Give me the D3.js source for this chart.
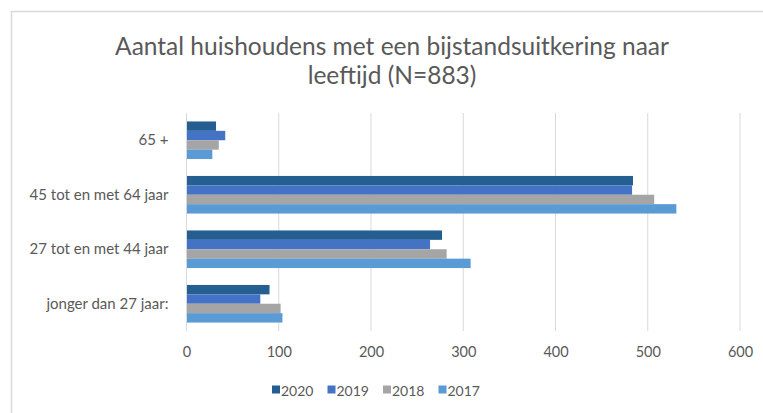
<!DOCTYPE html>
<html><head><meta charset="utf-8">
<script src="https://cdn.jsdelivr.net/npm/d3@7"></script>
<style>body{margin:0;background:#fff}svg{display:block}text{font-family:Lato,"Open Sans",sans-serif}</style>
</head><body><svg id="c" width="763" height="413"></svg>
<script>
const categories = ["65 +", "45 tot en met 64 jaar", "27 tot en met 44 jaar", "jonger dan 27 jaar:"];
const seriesNames = ["2020", "2019", "2018", "2017"];
const values2020 = [32, 484, 277, 90];
const values2019 = [42, 483, 264, 80];
const values2018 = [35, 507, 282, 102];
const values2017 = [28, 531, 308, 104];
const xTicks = [0, 100, 200, 300, 400, 500, 600];
const titleLines = ["Aantal huishoudens met een bijstandsuitkering naar", "leeftijd (N=883)"];
const colors = ["#255E91", "#4472C4", "#A5A5A5", "#5B9BD5"];

const series = [values2020, values2019, values2018, values2017];
const svg = d3.select("#c");
// chart border
svg.append("path").attr("d","M11.5,413 V11.5 H763").attr("fill","none").attr("stroke","#d9d9d9").attr("stroke-width",1.5);

const x = d3.scaleLinear().domain([0,600]).range([186.5,740]);
const y = d3.scaleBand().domain(categories).range([113,331]).paddingInner(0.31).paddingOuter(0.155);
const yi = d3.scaleBand().domain(seriesNames).range([0,y.bandwidth()]);

// gridlines
svg.append("g").selectAll("line").data(xTicks.slice(1)).join("line")
  .attr("x1",d=>x(d)).attr("x2",d=>x(d)).attr("y1",113).attr("y2",331)
  .attr("stroke","#d9d9d9").attr("stroke-width",1);
// bars
const g = svg.append("g");
series.forEach((vals,si)=>{
  g.selectAll(null).data(vals).join("rect")
    .attr("x",x(0)).attr("y",(d,i)=>y(categories[i])+yi(seriesNames[si]))
    .attr("width",d=>x(d)-x(0)).attr("height",yi.bandwidth())
    .attr("fill",colors[si]);
});
// y axis line
svg.append("line").attr("x1",x(0)).attr("x2",x(0)).attr("y1",113).attr("y2",331).attr("stroke","#d9d9d9");
// x axis labels
const xa = d3.axisBottom(x).tickValues(xTicks).tickSize(0).tickPadding(0);
const xg = svg.append("g").attr("transform","translate(0,357)").call(xa);
xg.select(".domain").remove();
xg.selectAll("text").attr("fill","#595959").style("font-size","14.5px").attr("dy",0);
// y axis labels
const ya = d3.axisLeft(y).tickSize(0).tickPadding(18);
const yg = svg.append("g").attr("transform",`translate(${x(0)},0)`).call(ya);
yg.select(".domain").remove();
yg.selectAll("text").attr("fill","#595959").style("font-size","15px");
// title
svg.append("g").selectAll("text").data(titleLines).join("text")
  .attr("x",392).attr("y",(d,i)=>55+i*29).attr("text-anchor","middle")
  .attr("fill","#595959").style("font-size","24.5px").text(d=>d);
// legend
const lg = svg.append("g").selectAll("g").data(seriesNames).join("g")
  .attr("transform",(d,i)=>`translate(${272+i*55.5},390)`);
lg.append("rect").attr("x",0).attr("y",-4.5).attr("width",8).attr("height",8).attr("fill",(d,i)=>colors[i]);
lg.append("text").attr("x",9).attr("y",5.5).attr("fill","#595959").style("font-size","14px").text(d=>d);
</script></body></html>
